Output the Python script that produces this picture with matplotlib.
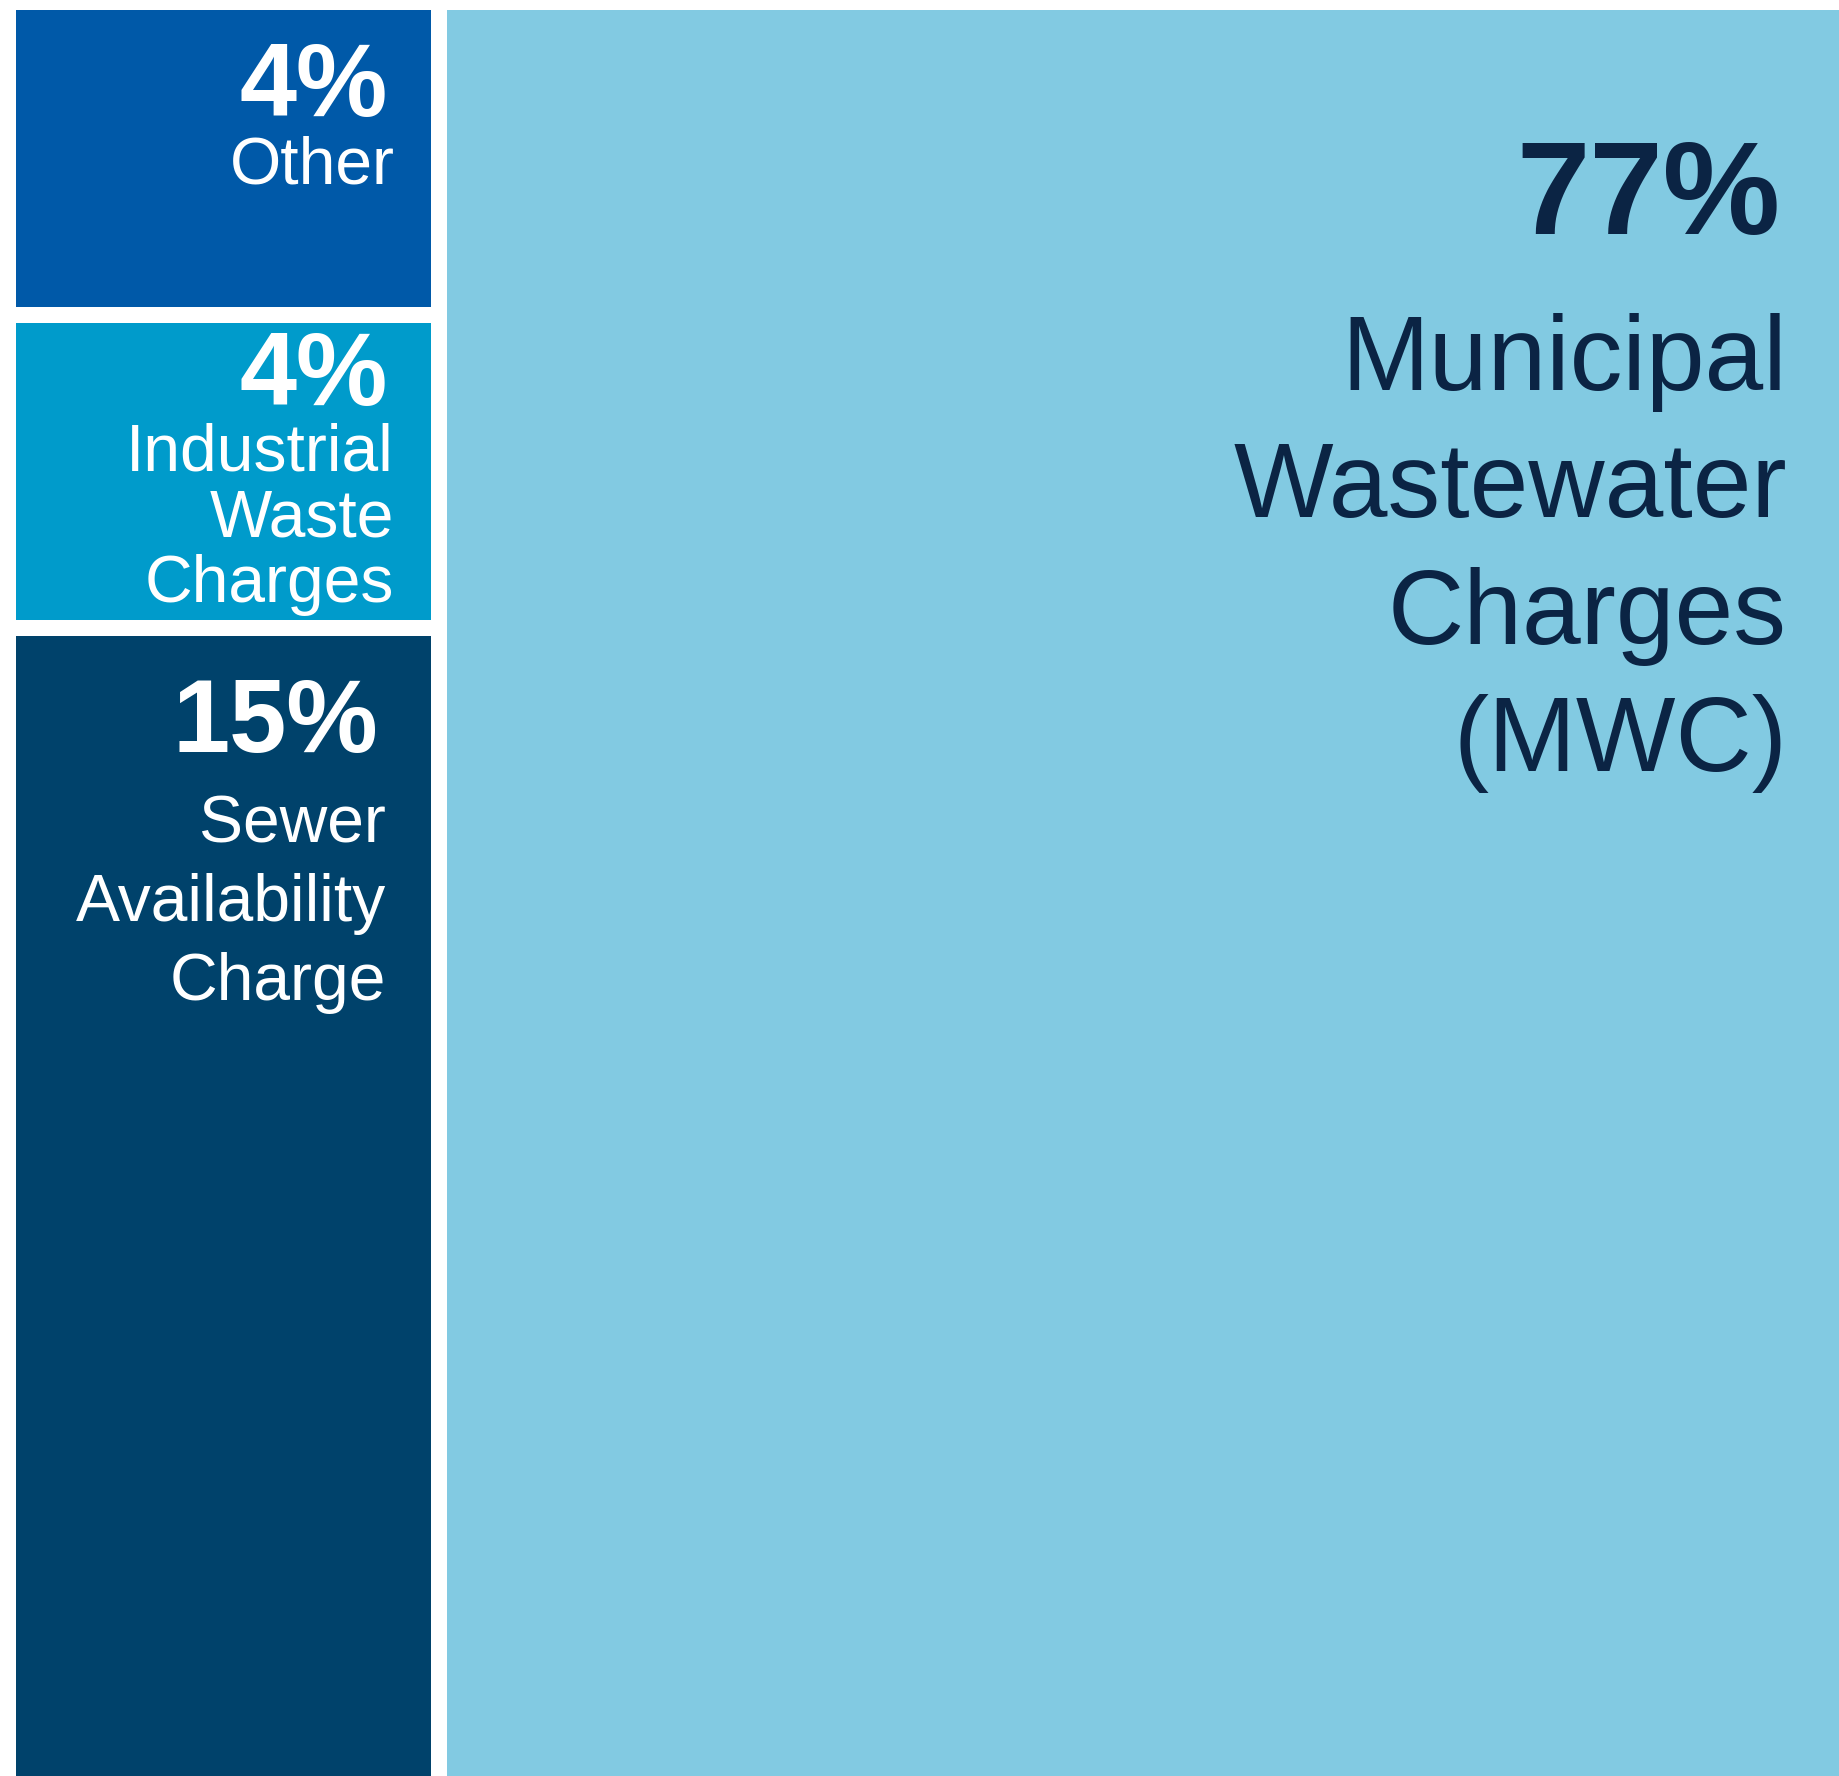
import matplotlib
matplotlib.use("Agg")
import matplotlib.pyplot as plt
from matplotlib.patches import Rectangle

plt.rcParams['font.family'] = ['Liberation Sans', 'DejaVu Sans']

# data: share of revenue by source (percent)
names = ["Other", "Industrial Waste Charges", "Sewer Availability Charge",
         "Municipal Wastewater Charges (MWC)"]
shares = [4, 4, 15, 77]
label_lines = [["Other"],
               ["Industrial", "Waste", "Charges"],
               ["Sewer", "Availability", "Charge"],
               ["Municipal", "Wastewater", "Charges", "(MWC)"]]
colors = ["#0059a8", "#009bcb", "#00426b", "#82cae2"]
text_colors = ["white", "white", "white", "#0b2444"]

# per-box text layout (pixels from box top): pct baseline, first line baseline, line pitch
pct_off = [106, 82, 116, 224]
line_off = [174, 147, 206, 380]
pitch = [66, 66, 79, 127]
pad_pct = [43, 43, 53, 59]
pad_txt = [36, 37, 45, 53]
pct_size = [74, 74, 74, 95]
txt_size = [47.5, 47.5, 47.5, 76]

W, H = 1840, 1776
fig = plt.figure(figsize=(W / 100, H / 100), dpi=100)
ax = fig.add_axes([0, 0, 1, 1])
ax.set_xlim(0, W)
ax.set_ylim(H, 0)
ax.axis('off')

# slice-and-dice treemap: first three stacked in a left column, last fills the rest
# (the region runs past the right and bottom edges, the picture is cropped there)
gap = 16
x0, y0 = 16, 10
reg_w, reg_h = 1874, 1800
left_total = sum(shares[:3])
col_w = reg_w * left_total / sum(shares)

boxes = []
y = y0
for s in shares[:3]:
    h = reg_h * s / left_total
    boxes.append((x0, y, col_w - gap, h - gap))
    y += h
boxes.append((x0 + col_w, y0, reg_w - col_w - gap, reg_h - gap))

for i, (bx, by, bw, bh) in enumerate(boxes):
    ax.add_patch(Rectangle((bx, by), bw, bh, facecolor=colors[i], edgecolor='none'))
    right = min(bx + bw, W)
    ax.text(right - pad_pct[i], by + pct_off[i], f"{shares[i]}%", ha='right', va='baseline',
            fontsize=pct_size[i], fontweight='bold', color=text_colors[i])
    for k, line in enumerate(label_lines[i]):
        ax.text(right - pad_txt[i], by + line_off[i] + k * pitch[i], line, ha='right',
                va='baseline', fontsize=txt_size[i], color=text_colors[i])

fig.savefig("out.png", dpi=100, facecolor="white")
